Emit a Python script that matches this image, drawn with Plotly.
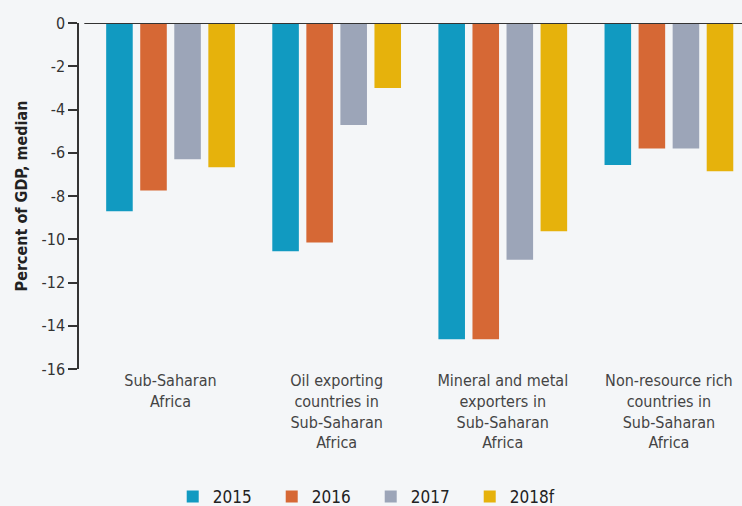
import plotly.graph_objects as go

categories = ["Sub-Saharan<br>Africa",
              "Oil exporting<br>countries in<br>Sub-Saharan<br>Africa",
              "Mineral and metal<br>exporters in<br>Sub-Saharan<br>Africa",
              "Non-resource rich<br>countries in<br>Sub-Saharan<br>Africa"]
years = ["2015", "2016", "2017", "2018f"]
v2015 = [-8.7, -10.55, -14.63, -6.57]
v2016 = [-7.75, -10.15, -14.63, -5.8]
v2017 = [-6.3, -4.72, -10.95, -5.8]
v2018f = [-6.67, -3.0, -9.63, -6.85]
colors = ["#119ac1", "#d66835", "#9ca5b8", "#e6b20c"]
yticks = [0, -2, -4, -6, -8, -10, -12, -14, -16]

FONT = "DejaVu Sans Condensed, Liberation Sans Narrow, sans-serif"

fig = go.Figure()
for name, vals, c in zip(years, [v2015, v2016, v2017, v2018f], colors):
    fig.add_trace(go.Bar(x=list(range(len(categories))), y=vals, name=name,
                         marker=dict(color=c, line=dict(width=0))))

fig.update_layout(
    width=742, height=506,
    margin=dict(l=79, r=0, t=23, b=137, autoexpand=False),
    paper_bgcolor="#f4f6f8", plot_bgcolor="#f4f6f8",
    barmode="group", bargap=0.18, bargroupgap=0.22,
    font=dict(family=FONT, color="#333333", size=15),
    showlegend=True,
    legend=dict(orientation="h", x=0.44, xanchor="center", y=-0.37, yanchor="middle",
                font=dict(size=17, color="#222222"), itemwidth=30,
                entrywidth=54, entrywidthmode="pixels",
                traceorder="normal", bgcolor="rgba(0,0,0,0)"),
    xaxis=dict(range=[-0.551, 3.44], tickvals=list(range(len(categories))),
               ticktext=categories, showline=False, showgrid=False, zeroline=False,
               ticks="", tickfont=dict(size=16, color="#444444")),
    yaxis=dict(range=[-16, 0], tickvals=yticks, ticktext=[str(t) for t in yticks],
               showgrid=False, zeroline=False, showline=True, linecolor="#333333",
               linewidth=1.5, ticks="outside", ticklen=9, tickcolor="#333333",
               tickwidth=1.5, tickfont=dict(size=16, color="#333333"),
               title=dict(text="<b>Percent of GDP, median</b>", font=dict(size=16, color="#222222"),
                          standoff=10)),
)
fig.add_shape(type="line", xref="paper", yref="y", x0=0.008, x1=1, y0=0, y1=0,
              line=dict(color="#333333", width=2), layer="above")

fig.write_html("out.html", config={"displayModeBar": False},
               post_script="document.body.style.margin='0';")
